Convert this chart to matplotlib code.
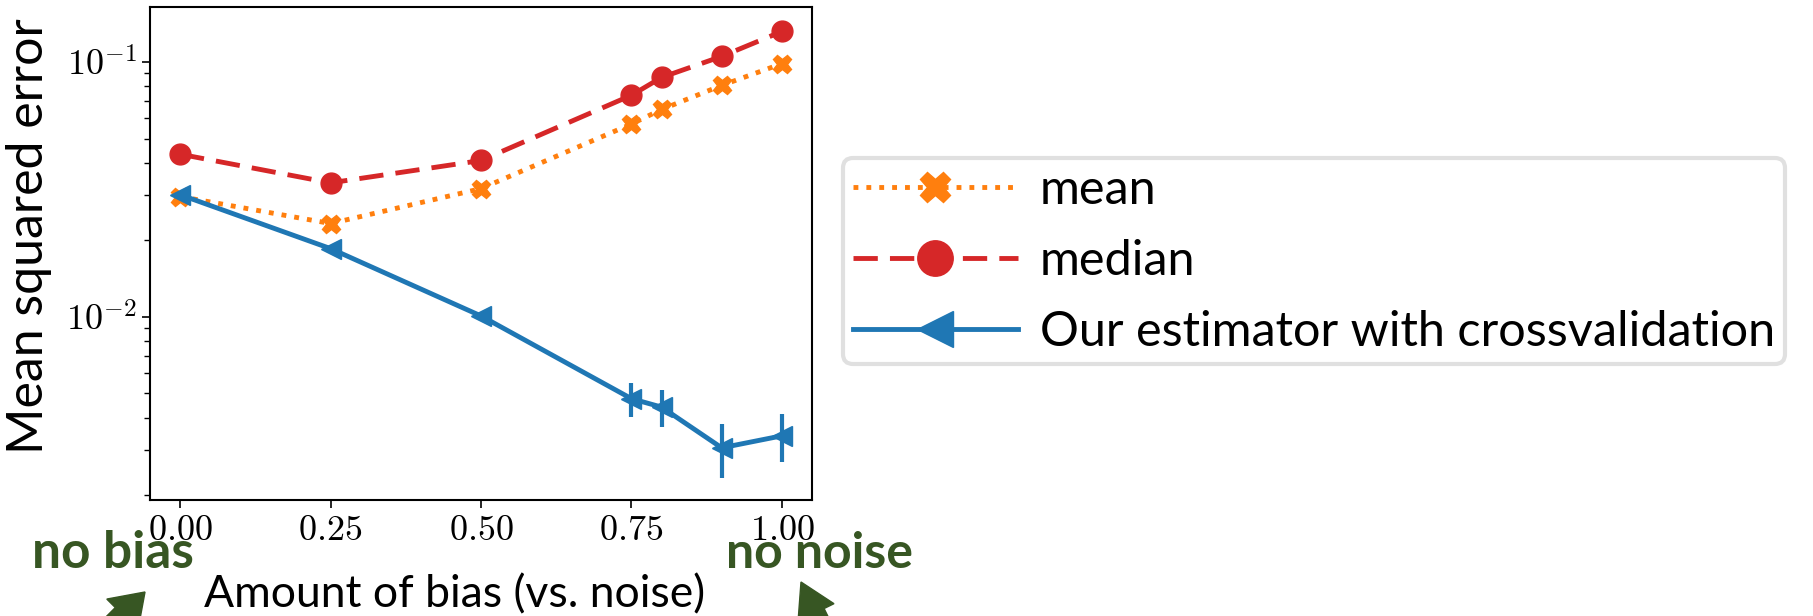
import numpy as np
import matplotlib
matplotlib.use("Agg")
import matplotlib.pyplot as plt
from matplotlib.patches import FancyArrow
from matplotlib.transforms import IdentityTransform
from matplotlib.ticker import FixedLocator, FuncFormatter, LogLocator, NullFormatter

# data
bias = [0.0, 0.25, 0.5, 0.75, 0.8, 0.9, 1.0]
mse_mean = [0.0296, 0.0232, 0.0318, 0.057, 0.065, 0.0808, 0.0983]
mse_median = [0.0434, 0.0335, 0.0410, 0.0739, 0.0868, 0.105, 0.1315]
mse_ours = [0.0301, 0.0185, 0.01007, 0.00477, 0.00442, 0.00306, 0.00341]
err_ours = [0.0004, 0.0003, 0.0003, 0.00074, 0.00072, 0.00074, 0.00073]

x_ticks = [0.0, 0.25, 0.5, 0.75, 1.0]
labels = ["mean", "median", "Our estimator with crossvalidation"]

plt.rcParams["mathtext.fontset"] = "cm"

W, H = 1813, 616
fig = plt.figure(figsize=(W / 100, H / 100), dpi=100)
ax = fig.add_axes([150 / W, 1 - 500 / H, (812 - 150) / W, (500 - 7) / H])

blue, orange, red = "#1f77b4", "#ff7f0e", "#d62728"

l_mean, = ax.plot(bias, mse_mean, linestyle=":", color=orange, lw=3.5,
                  marker="X", markersize=13)
l_median, = ax.plot(bias, mse_median, linestyle="--", color=red, lw=3.5,
                    dashes=(5, 2.5), marker="o", markersize=15)
eb = ax.errorbar(bias, mse_ours, yerr=err_ours, color=blue, lw=3.5,
                 elinewidth=3, marker="<", markersize=15)

ax.set_yscale("log")
ax.set_xlim(-0.05, 1.05)
ax.set_ylim(0.00191, 0.164)

ax.xaxis.set_major_locator(FixedLocator(x_ticks))
ax.xaxis.set_major_formatter(FuncFormatter(lambda v, p: r"$%.2f$" % v))
ax.yaxis.set_major_locator(LogLocator(base=10, numticks=10))
ax.yaxis.set_major_formatter(FuncFormatter(lambda v, p: r"$10^{%d}$" % round(np.log10(v))))
ax.yaxis.set_minor_formatter(NullFormatter())
ax.tick_params(axis="both", which="major", labelsize=26, length=6, width=1.2)
ax.tick_params(axis="y", which="minor", length=4, width=1)
for s in ax.spines.values():
    s.set_linewidth(1.5)

ax.set_ylabel("Mean squared error", family="Lato", fontsize=36)
ax.yaxis.set_label_coords(-0.148, 0.535)

# legend outside, to the right
leg = fig.legend(handles=[l_mean, l_median, eb.lines[0]], labels=labels,
                 loc="center left", bbox_to_anchor=(843 / W, 1 - 261 / H),
                 borderaxespad=0, prop={"family": "Lato", "size": 35},
                 markerscale=1.7, handlelength=3.4, handletextpad=0.45,
                 frameon=True, fancybox=True, edgecolor="#d9d9d9",
                 borderpad=0.2, labelspacing=0.56)
leg.get_frame().set_linewidth(3)

green = "#375623"
fig.text(32 / W, 1 - 554 / H, "no bias", color=green, fontsize=37,
         fontweight="bold", family="Lato", va="center", ha="left")
fig.text(726 / W, 1 - 554 / H, "no noise", color=green, fontsize=36,
         fontweight="bold", family="Lato", va="center", ha="left")
fig.text(455 / W, 1 - 595 / H, "Amount of bias (vs. noise)", fontsize=32,
         family="Lato", va="center", ha="center")

# thick arrows, cut by the image edge (pixel units, origin bottom-left)
fig.patches.append(FancyArrow(75, -46, 70, 70, width=20, head_width=44,
                              head_length=32, length_includes_head=True,
                              transform=IdentityTransform(), color=green,
                              figure=fig))
fig.patches.append(FancyArrow(832, -29, -31, 63, width=18, head_width=40,
                              head_length=34, length_includes_head=True,
                              transform=IdentityTransform(), color=green,
                              figure=fig))

fig.savefig("out.png", dpi=100)
